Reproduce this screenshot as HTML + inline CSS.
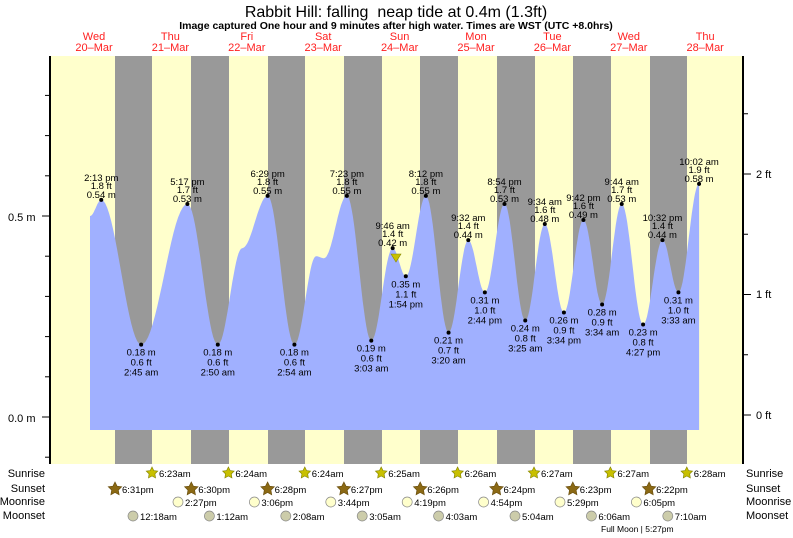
<!DOCTYPE html>
<html><head><meta charset="utf-8"><style>
body{margin:0;background:#fff;width:793px;height:538px;overflow:hidden}
svg{display:block;font-family:"Liberation Sans",sans-serif}
</style></head><body>
<svg id="s" width="793" height="538" viewBox="0 0 793 538" xmlns="http://www.w3.org/2000/svg">
<rect x="50" y="56" width="693" height="408" fill="#ffffcc"/>
<g fill="#999999">
<rect x="115" y="56" width="37" height="408"/><rect x="191" y="56" width="38" height="408"/>
<rect x="268" y="56" width="37" height="408"/><rect x="344" y="56" width="38" height="408"/>
<rect x="420" y="56" width="38" height="408"/><rect x="497" y="56" width="38" height="408"/>
<rect x="573" y="56" width="38" height="408"/><rect x="650" y="56" width="37" height="408"/>
</g>
<path id="tide" fill="#a0b0ff" d=""/>
<g id="lab" font-size="9.5" fill="#000" text-anchor="middle"></g>
<polygon points="391,254 401,254 396,262" fill="#c8c000" stroke="#888800" stroke-width="0.6"/>
<line x1="50" y1="56" x2="50" y2="464" stroke="#000" stroke-width="2"/>
<line x1="743" y1="56" x2="743" y2="464" stroke="#000" stroke-width="2"/>
<g id="ticks" stroke="#000" stroke-width="1"></g>
<g font-size="11" fill="#000">
<text x="8" y="221">0.5 m</text><text x="8" y="422">0.0 m</text>
<text x="756" y="178">2 ft</text><text x="756" y="298">1 ft</text><text x="756" y="419">0 ft</text>
</g>
<text x="396" y="17" font-size="16" text-anchor="middle">Rabbit Hill: falling&#160; neap tide at 0.4m (1.3ft)</text>
<text x="396" y="29" font-size="10.5" font-weight="bold" text-anchor="middle">Image captured One hour and 9 minutes after high water. Times are WST (UTC +8.0hrs)</text>
<g id="days" font-size="11" fill="#ff2020" text-anchor="middle"></g>
<g font-size="11" fill="#000" text-anchor="end">
<text x="45" y="477">Sunrise</text><text x="45" y="492">Sunset</text><text x="45" y="505">Moonrise</text><text x="45" y="519">Moonset</text>
</g>
<g font-size="11" fill="#000">
<text x="746" y="477">Sunrise</text><text x="746" y="492">Sunset</text><text x="746" y="505">Moonrise</text><text x="746" y="519">Moonset</text>
</g>
<g id="astro" font-size="9.5" fill="#000"></g>
<text x="601" y="532" font-size="8.5" fill="#000">Full Moon | 5:27pm</text>
</svg>
<script>
function X(t){return 56+t*3.183}
function Y(h){return 417-h*402}
var E=[[10.7,0.5],[14.22,0.54,"2:13 pm","1.8 ft","0.54 m",1],[26.75,0.18,"2:45 am","0.6 ft","0.18 m",0],[41.28,0.53,"5:17 pm","1.7 ft","0.53 m",1],[50.83,0.18,"2:50 am","0.6 ft","0.18 m",0],[58.5,0.42],[66.48,0.55,"6:29 pm","1.8 ft","0.55 m",1],[74.9,0.18,"2:54 am","0.6 ft","0.18 m",0],[81.7,0.40],[84.2,0.395],[91.38,0.55,"7:23 pm","1.8 ft","0.55 m",1],[99.05,0.19,"3:03 am","0.6 ft","0.19 m",0],[105.77,0.42,"9:46 am","1.4 ft","0.42 m",1],[109.9,0.35,"1:54 pm","1.1 ft","0.35 m",0],[116.2,0.55,"8:12 pm","1.8 ft","0.55 m",1],[123.33,0.21,"3:20 am","0.7 ft","0.21 m",0],[129.53,0.44,"9:32 am","1.4 ft","0.44 m",1],[134.73,0.31,"2:44 pm","1.0 ft","0.31 m",0],[140.9,0.53,"8:54 pm","1.7 ft","0.53 m",1],[147.42,0.24,"3:25 am","0.8 ft","0.24 m",0],[153.57,0.48,"9:34 am","1.6 ft","0.48 m",1],[159.57,0.26,"3:34 pm","0.9 ft","0.26 m",0],[165.7,0.49,"9:42 pm","1.6 ft","0.49 m",1],[171.57,0.28,"3:34 am","0.9 ft","0.28 m",0],[177.73,0.53,"9:44 am","1.7 ft","0.53 m",1],[184.45,0.23,"4:27 pm","0.8 ft","0.23 m",0],[190.53,0.44,"10:32 pm","1.4 ft","0.44 m",1],[195.55,0.31,"3:33 am","1.0 ft","0.31 m",0],[202.03,0.58,"10:02 am","1.9 ft","0.58 m",1]];
var d="M90,430 L90,"+Y(0.5).toFixed(1);
for(var i=0;i<E.length-1;i++){var a=E[i],b=E[i+1];for(var k=1;k<=20;k++){var f=k/20,t=a[0]+(b[0]-a[0])*f,h=a[1]+(b[1]-a[1])*(1-Math.cos(Math.PI*f))/2;d+=" L"+X(t).toFixed(1)+","+Y(h).toFixed(1);}}
d+=" L"+X(202.03).toFixed(1)+",430 Z";
document.getElementById("tide").setAttribute("d",d);
var lab=document.getElementById("lab"),h="";
E.forEach(function(e){if(!e[2])return;var x=X(e[0]),y=Y(e[1]);h+='<circle cx="'+x+'" cy="'+y+'" r="2" fill="#000"/>';
if(e[5]){h+='<text x="'+x+'" y="'+(y-19)+'">'+e[2]+'</text><text x="'+x+'" y="'+(y-11)+'">'+e[3]+'</text><text x="'+x+'" y="'+(y-2)+'">'+e[4]+'</text>';}
else{h+='<text x="'+x+'" y="'+(y+11)+'">'+e[4]+'</text><text x="'+x+'" y="'+(y+21)+'">'+e[3]+'</text><text x="'+x+'" y="'+(y+31)+'">'+e[2]+'</text>';}});
lab.innerHTML=h;
var tk="";for(var m=-0.1;m<=0.9;m+=0.1){var y=Y(m);if(y<56||y>464)continue;tk+='<line x1="'+(Math.abs(m-0.5)<.01||Math.abs(m)<.01?42:45)+'" y1="'+y+'" x2="50" y2="'+y+'"/>';}
for(var f=-0.5;f<=3;f+=0.5){var y=415-f*120.5;if(y<56||y>464)continue;tk+='<line x1="743" y1="'+y+'" x2="'+(f%1==0?751:748)+'" y2="'+y+'"/>';}
document.getElementById("ticks").innerHTML=tk;
var D=[["Wed","20–Mar"],["Thu","21–Mar"],["Fri","22–Mar"],["Sat","23–Mar"],["Sun","24–Mar"],["Mon","25–Mar"],["Tue","26–Mar"],["Wed","27–Mar"],["Thu","28–Mar"]],dh="";
D.forEach(function(v,i){var x=94+i*76.4;dh+='<text x="'+x+'" y="40">'+v[0]+'</text><text x="'+x+'" y="51">'+v[1]+'</text>';});
document.getElementById("days").innerHTML=dh;
function star(cx,cy,r,fill,st){var p=[];for(var i=0;i<10;i++){var a=-Math.PI/2+i*Math.PI/5,rr=i%2?r*0.5:r;p.push((cx+rr*Math.cos(a)).toFixed(1)+","+(cy+rr*Math.sin(a)).toFixed(1));}return '<polygon points="'+p.join(" ")+'" fill="'+fill+'" stroke="'+st+'" stroke-width="0.7"/>';}
var sr=["6:23am","6:24am","6:24am","6:25am","6:26am","6:27am","6:27am","6:28am"],ss=["6:31pm","6:30pm","6:28pm","6:27pm","6:26pm","6:24pm","6:23pm","6:22pm"],mr=["2:27pm","3:06pm","3:44pm","4:19pm","4:54pm","5:29pm","6:05pm"],ms=["12:18am","1:12am","2:08am","3:05am","4:03am","5:04am","6:06am","7:10am"],a="";
for(var i=0;i<8;i++){var x=152+i*76.4;a+=star(x,473,6,"#c8c000","#888800")+'<text x="'+(x+7)+'" y="477">'+sr[i]+'</text>';
x=115+i*76.3;a+=star(x,489,7,"#8b6914","#6b5010")+'<text x="'+(x+7)+'" y="493">'+ss[i]+'</text>';
x=133+i*76.4;a+='<circle cx="'+x+'" cy="516" r="5" fill="#ccccaa" stroke="#888" stroke-width="0.7"/><text x="'+(x+7)+'" y="520">'+ms[i]+'</text>';}
for(var i=0;i<7;i++){var x=178+i*76.4;a+='<circle cx="'+x+'" cy="502" r="5" fill="#ffffcc" stroke="#888" stroke-width="0.7"/><text x="'+(x+7)+'" y="506">'+mr[i]+'</text>';}
document.getElementById("astro").innerHTML=a;
</script>
</body></html>
